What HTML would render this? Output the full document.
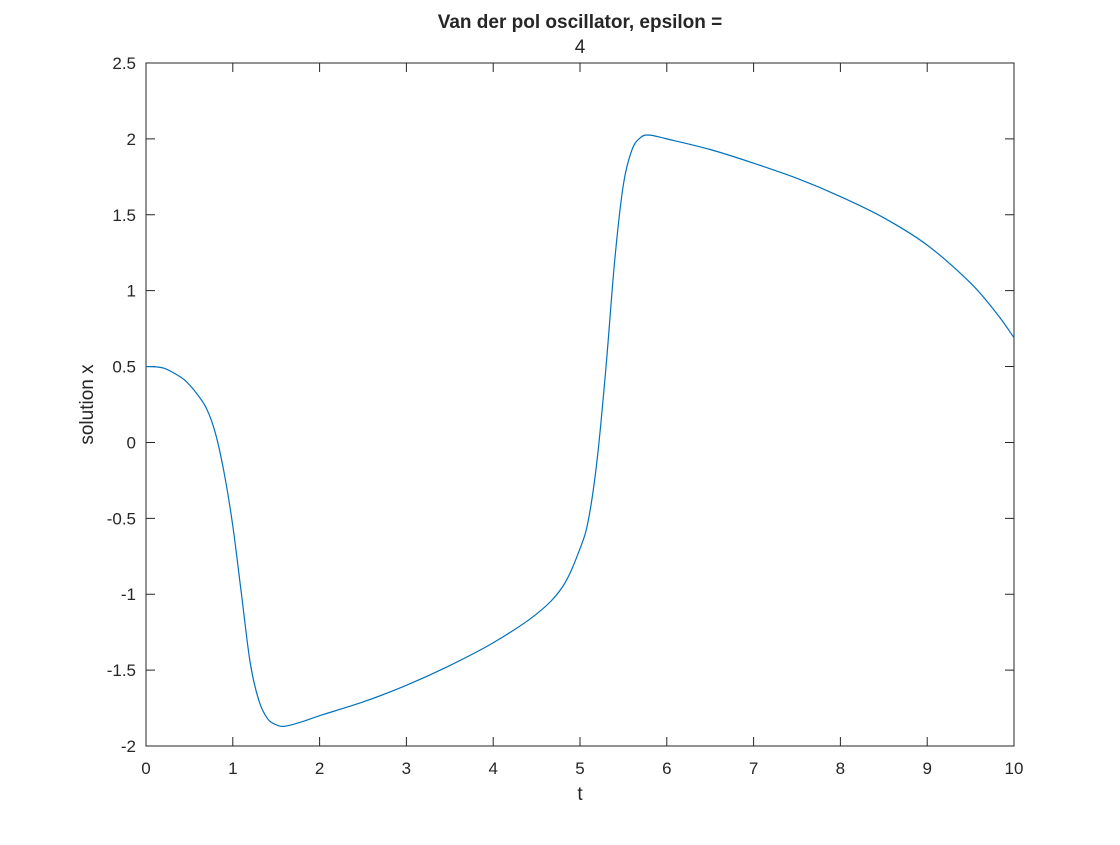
<!DOCTYPE html>
<html><head><meta charset="utf-8"><style>
body{margin:0;background:#fff;}
svg text{font-family:"Liberation Sans",Arial,sans-serif;fill:#262626;}
</style></head><body>
<svg id="c" width="1120" height="840" xmlns="http://www.w3.org/2000/svg"></svg>
<script>
const tVals=[0,0.2,0.4,0.5,0.6,0.7,0.8,0.9,1.0,1.1,1.2,1.3,1.4,1.5,1.6,1.8,2.0,2.5,3.0,3.5,4.0,4.5,4.8,5.0,5.1,5.2,5.3,5.4,5.5,5.6,5.7,5.8,6.0,6.5,7.0,7.5,8.0,8.5,9.0,9.5,9.8,10];
const xVals=[0.5,0.49,0.43,0.38,0.31,0.22,0.06,-0.2,-0.55,-1.0,-1.45,-1.7,-1.82,-1.86,-1.87,-1.84,-1.8,-1.71,-1.6,-1.47,-1.32,-1.13,-0.95,-0.7,-0.5,-0.1,0.5,1.2,1.7,1.93,2.01,2.025,2.0,1.93,1.84,1.74,1.62,1.48,1.3,1.05,0.85,0.69];
const xTicks=[0,1,2,3,4,5,6,7,8,9,10];
const yTicks=[-2,-1.5,-1,-0.5,0,0.5,1,1.5,2,2.5];
const L=146,R=1014,T=63,B=746;
const sx=v=>L+(v-0)/10*(R-L);
const sy=v=>B-(v+2)/4.5*(B-T);
const svg=document.getElementById('c');
const NS='http://www.w3.org/2000/svg';
function mk(tag,attrs,parent){const e=document.createElementNS(NS,tag);for(const k in attrs)e.setAttribute(k,attrs[k]);(parent||svg).appendChild(e);return e;}
const box=mk('rect',{x:L,y:T,width:R-L,height:B-T,fill:'#fff',stroke:'#262626','stroke-width':1});


xTicks.forEach(v=>{const x=sx(v);
 const l=mk('path',{d:`M${x},${B}V${B-9}M${x},${T}V${T+9}`,stroke:'#262626','stroke-width':1});
 
 
 const t=mk('text',{x:x,y:B+28,'text-anchor':'middle','font-size':17});t.textContent=v;
 
 
});
yTicks.forEach(v=>{const y=sy(v);
 const l=mk('path',{d:`M${L},${y}H${L+9}M${R},${y}H${R-9}`,stroke:'#262626','stroke-width':1});
 
 
 const t=mk('text',{x:L-10,y:y+6,'text-anchor':'end','font-size':17});t.textContent=v;
 
 
});
const pts=tVals.map((t,i)=>[sx(t),sy(xVals[i])]);
let d=`M${pts[0][0]},${pts[0][1]}`;
for(let i=0;i<pts.length-1;i++){const p0=pts[Math.max(0,i-1)],p1=pts[i],p2=pts[i+1],p3=pts[Math.min(pts.length-1,i+2)];
 d+=`C${p1[0]+(p2[0]-p0[0])/6},${p1[1]+(p2[1]-p0[1])/6} ${p2[0]-(p3[0]-p1[0])/6},${p2[1]-(p3[1]-p1[1])/6} ${p2[0]},${p2[1]}`;}
const line=mk('path',{d:d,fill:'none',stroke:'#0072bd','stroke-width':1.2});


const xl=mk('text',{x:(L+R)/2,y:800,'text-anchor':'middle','font-size':19});xl.textContent='t';


const yl=mk('text',{x:0,y:0,'text-anchor':'middle','font-size':19,transform:`translate(93,${(T+B)/2}) rotate(-90)`});yl.textContent='solution x';


const t1=mk('text',{x:(L+R)/2,y:28,'text-anchor':'middle','font-size':19,'font-weight':'bold'});t1.textContent='Van der pol oscillator, epsilon =';


const t2=mk('text',{x:(L+R)/2,y:53,'text-anchor':'middle','font-size':19});t2.textContent='4';


</script>
</body></html>
